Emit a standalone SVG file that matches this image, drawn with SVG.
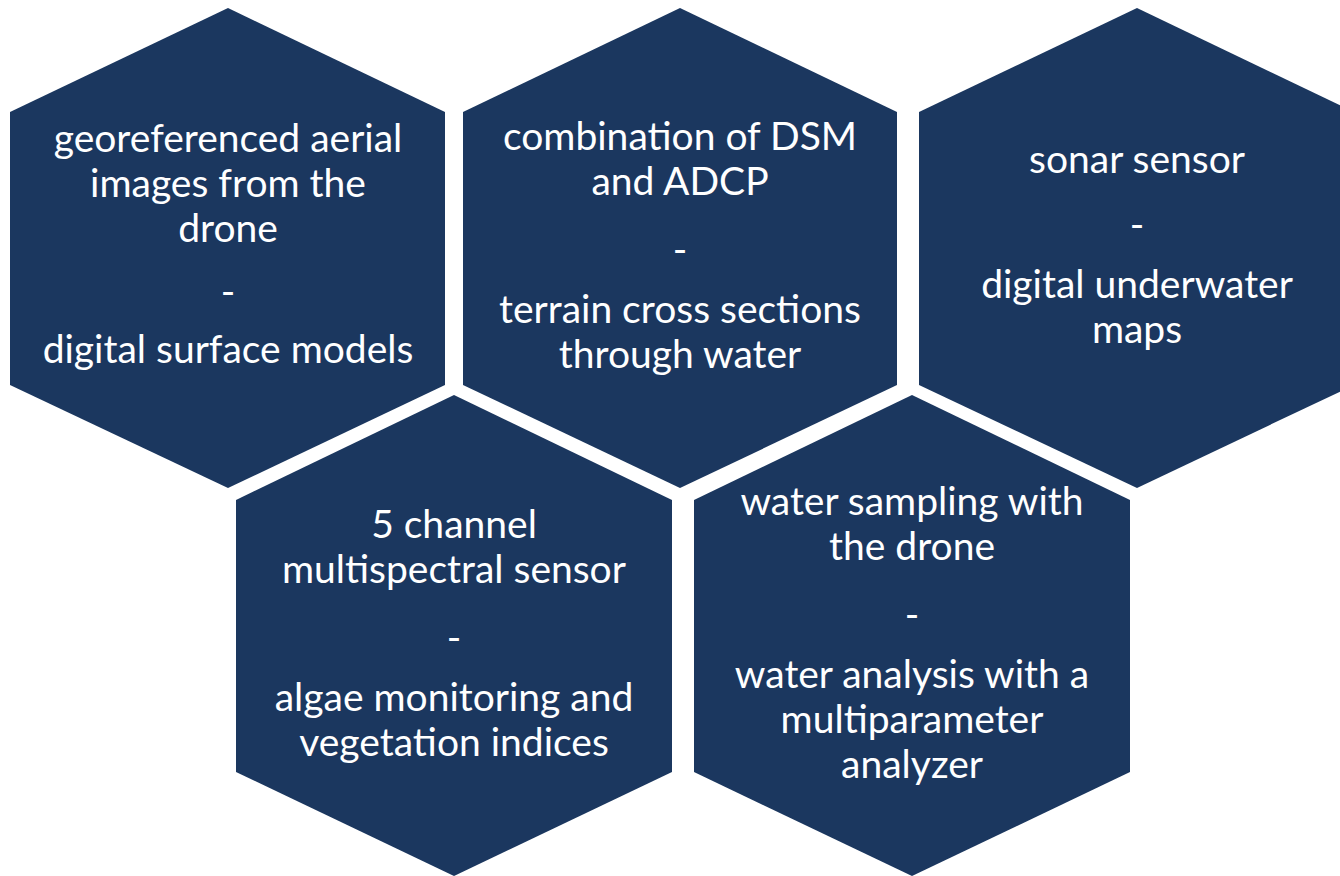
<svg xmlns="http://www.w3.org/2000/svg" width="1340" height="876" viewBox="0 0 1340 876">
  <style>
    .hex { fill: #1B375F; }
    .hex.front { stroke: #FFFFFF; stroke-width: 22; stroke-linejoin: miter; paint-order: stroke fill; }
    .lbl { fill: #FFFFFF; font-family: Lato, "Liberation Sans", sans-serif; font-size: 39px; text-anchor: middle; }
  </style>
  <rect x="0" y="0" width="1340" height="876" fill="#FFFFFF"/>

  <!-- top row -->
  <g id="node-aerial-images">
    <polygon class="hex" points="228,8 445,112 445,385 228,488 10,385 10,112"/>
    <text class="lbl" x="228" y="152">georeferenced aerial</text>
    <text class="lbl" x="228" y="197">images from the</text>
    <text class="lbl" x="228" y="242">drone</text>
    <text class="lbl" x="228" y="305">-</text>
    <text class="lbl" x="228" y="363">digital surface models</text>
  </g>

  <g id="node-dsm-adcp">
    <polygon class="hex" points="680,8 897,112 897,385 680,488 463,385 463,112"/>
    <text class="lbl" x="680" y="150">combination of DSM</text>
    <text class="lbl" x="680" y="195">and ADCP</text>
    <text class="lbl" x="680" y="263">-</text>
    <text class="lbl" x="680" y="323">terrain cross sections</text>
    <text class="lbl" x="680" y="368">through water</text>
  </g>

  <g id="node-sonar">
    <polygon class="hex" points="1137,8 1354,112 1354,385 1137,488 919,385 919,112"/>
    <text class="lbl" x="1137" y="173">sonar sensor</text>
    <text class="lbl" x="1137" y="238">-</text>
    <text class="lbl" x="1137" y="298">digital underwater</text>
    <text class="lbl" x="1137" y="343">maps</text>
  </g>

  <!-- bottom row, outlined in white so it separates from the row above -->
  <g id="node-multispectral">
    <polygon class="hex front" points="454,395 672,500 672,772 454,876 236,772 236,500"/>
    <text class="lbl" x="454" y="538">5 channel</text>
    <text class="lbl" x="454" y="583">multispectral sensor</text>
    <text class="lbl" x="454" y="651">-</text>
    <text class="lbl" x="454" y="711">algae monitoring and</text>
    <text class="lbl" x="454" y="756">vegetation indices</text>
  </g>

  <g id="node-water-sampling">
    <polygon class="hex front" points="912,395 1130,500 1130,772 912,876 694,772 694,500"/>
    <text class="lbl" x="912" y="515">water sampling with</text>
    <text class="lbl" x="912" y="560">the drone</text>
    <text class="lbl" x="912" y="628">-</text>
    <text class="lbl" x="912" y="688">water analysis with a</text>
    <text class="lbl" x="912" y="733">multiparameter</text>
    <text class="lbl" x="912" y="778">analyzer</text>
  </g>

  <g id="connectors"/>
</svg>
